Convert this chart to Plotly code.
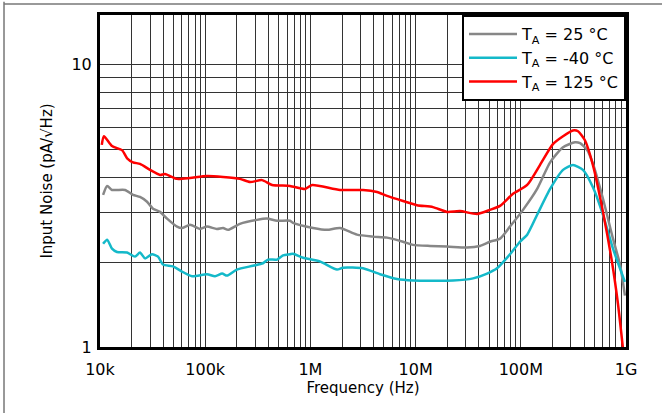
import plotly.graph_objects as go

# ---- data ----
freq_125 = [10.4e3, 10.9e3, 13.0e3, 16.2e3, 18.1e3, 20.6e3, 24.0e3, 29.9e3, 37.2e3, 41.5e3,
            54.0e3, 71.8e3, 104e3, 148e3, 214e3, 267e3, 347e3, 432e3, 640e3, 889e3,
            1.04e6, 1.91e6, 3.16e6, 4.30e6, 5.35e6, 7.59e6, 10.3e6, 14.6e6, 19.9e6, 26.4e6,
            38.4e6, 50.9e6, 63.4e6, 84.3e6, 115e6, 152e6, 202e6, 252e6, 313e6, 350e6,
            407e6, 485e6, 604e6, 736e6, 839e6, 938e6]
noise_125 = [5.2, 5.58, 5.15, 4.98, 4.66, 4.51, 4.45, 4.24, 4.07, 4.1,
             3.94, 3.97, 4.03, 4.0, 3.94, 3.84, 3.9, 3.75, 3.72, 3.63,
             3.75, 3.6, 3.6, 3.54, 3.43, 3.29, 3.18, 3.13, 3.01, 3.03,
             2.96, 3.06, 3.16, 3.49, 3.75, 4.41, 5.23, 5.58, 5.85, 5.81,
             5.40, 4.41, 3.01, 2.0, 1.42, 0.98]

freq_25 = [10.7e3, 11.7e3, 13.0e3, 14.5e3, 17.3e3, 20.6e3, 24.0e3, 28.0e3, 31.9e3, 37.2e3,
           43.4e3, 54.0e3, 60.1e3, 71.8e3, 89.3e3, 104e3, 129e3, 148e3, 165e3, 214e3,
           310e3, 386e3, 482e3, 640e3, 684e3, 1.06e6, 1.44e6, 1.91e6, 2.77e6, 3.94e6,
           5.35e6, 7.59e6, 9.44e6, 13.7e6, 19.9e6, 30.8e6, 40.9e6, 50.9e6, 63.4e6, 78.9e6,
           105e6, 143e6, 190e6, 252e6, 327e6, 366e6, 426e6, 485e6, 604e6, 752e6,
           877e6, 977e6]
noise_25 = [3.46, 3.72, 3.6, 3.6, 3.6, 3.46, 3.40, 3.27, 3.09, 3.01,
            2.85, 2.67, 2.64, 2.71, 2.62, 2.67, 2.62, 2.64, 2.60, 2.73,
            2.82, 2.85, 2.80, 2.80, 2.75, 2.64, 2.60, 2.64, 2.50, 2.46,
            2.44, 2.36, 2.30, 2.28, 2.27, 2.25, 2.28, 2.36, 2.42, 2.67,
            3.06, 3.63, 4.51, 5.10, 5.31, 5.27, 5.0, 4.46, 3.35, 2.42,
            1.96, 1.52]

freq_m40 = [10.7e3, 11.7e3, 13.0e3, 14.5e3, 18.1e3, 21.5e3, 24.0e3, 26.8e3, 31.2e3, 35.6e3,
            39.7e3, 49.4e3, 60.1e3, 75.0e3, 104e3, 124e3, 145e3, 161e3, 200e3, 284e3,
            354e3, 395e3, 482e3, 550e3, 640e3, 684e3, 851e3, 1.23e6, 1.79e6, 2.04e6,
            3.16e6, 4.59e6, 6.65e6, 9.44e6, 22.7e6, 35.2e6, 47.8e6, 59.4e6, 78.9e6, 98.2e6,
            115e6, 143e6, 190e6, 252e6, 313e6, 390e6, 485e6, 604e6, 752e6, 977e6]
noise_m40 = [2.32, 2.40, 2.23, 2.17, 2.16, 2.09, 2.16, 2.06, 2.13, 2.09,
             1.96, 1.93, 1.85, 1.78, 1.81, 1.78, 1.82, 1.79, 1.88, 1.94,
             1.98, 2.04, 2.04, 2.11, 2.13, 2.14, 2.07, 2.01, 1.88, 1.91,
             1.90, 1.81, 1.74, 1.72, 1.72, 1.75, 1.82, 1.90, 2.13, 2.36,
             2.50, 2.94, 3.63, 4.24, 4.41, 4.24, 3.68, 2.94, 2.23, 1.70]

x_tickvals = [1e4, 1e5, 1e6, 1e7, 1e8, 1e9]
x_ticktext = ["10k", "100k", "1M", "10M", "100M", "1G"]
x_minor = [m * 10 ** e for e in range(4, 9) for m in range(2, 10)]
y_tickvals = [1, 10]
y_ticktext = ["1", "10"]
y_minor = [2, 3, 4, 5, 6, 7, 8, 9]

series = [
    ("T<sub>A</sub> = 25 °C", freq_25, noise_25, "#878787"),
    ("T<sub>A</sub> = -40 °C", freq_m40, noise_m40, "#14B9C9"),
    ("T<sub>A</sub> = 125 °C", freq_125, noise_125, "#FF0000"),
]

FONT = "DejaVu Sans, Liberation Sans, Arial, sans-serif"

fig = go.Figure()
for name, fx, ny, col in series:
    fig.add_trace(go.Scatter(x=fx, y=ny, mode="lines", name=name,
                             line=dict(color=col, width=2.5, shape="spline", smoothing=0.6)))

grid_col = "#333333"
fig.update_xaxes(type="log", range=[4, 9], tickvals=x_tickvals, ticktext=x_ticktext,
                 showgrid=True, gridcolor=grid_col, gridwidth=1,
                 minor=dict(tickmode="array", tickvals=x_minor, showgrid=True,
                            gridcolor=grid_col, gridwidth=1),
                 showline=True, linecolor="black", linewidth=3, mirror=True,
                 ticks="", zeroline=False, ticklabelstandoff=6,
                 title=dict(text="Frequency (Hz)", standoff=0,
                            font=dict(size=15, color="black")),
                 tickfont=dict(size=16, color="black"))
fig.update_yaxes(type="log", range=[0, 1.176], tickvals=y_tickvals, ticktext=y_ticktext,
                 showgrid=True, gridcolor=grid_col, gridwidth=1,
                 minor=dict(tickmode="array", tickvals=y_minor, showgrid=True,
                            gridcolor=grid_col, gridwidth=1),
                 showline=True, linecolor="black", linewidth=3, mirror=True,
                 ticks="", zeroline=False, ticklabelstandoff=2,
                 title=dict(text="Input Noise (pA/√Hz)", standoff=16,
                            font=dict(size=15, color="black")),
                 tickfont=dict(size=16, color="black"))

fig.update_layout(
    width=662, height=413,
    margin=dict(l=100, r=36, t=13, b=66),
    paper_bgcolor="white", plot_bgcolor="white",
    font=dict(family=FONT, color="black"),
    showlegend=True,
    legend=dict(x=1, y=1, xanchor="right", yanchor="top",
                bgcolor="white", bordercolor="black", borderwidth=2,
                font=dict(size=16, color="black", family=FONT), tracegroupgap=0,
                itemwidth=48),
    shapes=[
        dict(type="line", xref="paper", yref="paper", x0=-0.1825, x1=-0.1825,
             y0=1.04, y1=-0.2, line=dict(color="#777", width=1.5)),
        dict(type="line", xref="paper", yref="paper", x0=-0.1825, x1=1.07,
             y0=1.033, y1=1.033, line=dict(color="#777", width=1.5)),
    ],
)

fig.write_html("out.html", config={"displayModeBar": False},
               post_script="document.body.style.margin='0';")
